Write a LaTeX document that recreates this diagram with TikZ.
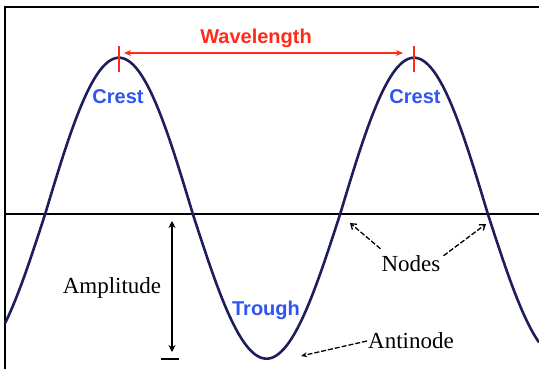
\documentclass[tikz,border=0pt]{standalone}
\usepackage{fontspec}
\setmainfont{Liberation Serif}
\newfontfamily\labelsans{Liberation Sans}
\usetikzlibrary{
  arrows.meta,
  positioning,
  calc
}
\definecolor{wvnavy}{HTML}{1E1E5C}
\definecolor{wvblue}{HTML}{2F55F0}
\definecolor{wvred}{HTML}{FF2A1A}

\begin{document}
\begin{tikzpicture}[
  x=1pt, y=-1pt,
  frameline/.style={draw=black, line width=1.6pt},
  wave/.style={draw=wvnavy, line width=2.6pt},
  partname/.style={
    font=\labelsans\bfseries\fontsize{20}{24}\selectfont,
    text=wvblue, inner sep=0pt
  },
  termname/.style={
    font=\fontsize{23}{27}\selectfont, text=black, inner sep=1pt
  },
  pointer/.style={
    draw=black, line width=1.3pt, dashed, dash pattern=on 5pt off 2pt
  }
]

% Canvas and frame
\useasboundingbox (0,0) rectangle (539,369);
\draw[frameline] (5,369) -- (5,7) -- (539,7);

% Rest line
\coordinate (restL) at (5,213.7);
\coordinate (restR) at (539,213.7);
\draw[line width=1.6pt] (restL) -- (restR);

% The wave
\draw[wave] plot[domain=5:539, samples=200, smooth]
  (\x, {213.7-cos(1.2203*(\x-119))*(cos(1.2203*(\x-119))>0 ? 156 : 145)});

% Crests and trough
\coordinate (crestA) at (119,58);
\coordinate (crestB) at (414,58);
\coordinate (troughbot) at (266,359);

\node[partname] (crestAlbl) at (118,97) {Crest};
\node[partname] (crestBlbl) at (415,97) {Crest};
\node[partname] (troughlbl) at (266,310) {Trough};

% Wavelength
\draw[wvred, line width=1.6pt] ($(crestA)+(0,-12)$) -- ($(crestA)+(0,14)$);
\draw[wvred, line width=1.6pt] ($(crestB)+(0,-12)$) -- ($(crestB)+(0,14)$);
\coordinate (waveA) at ($(crestA)+(0,-5)$);
\coordinate (waveB) at ($(crestB)+(0,-5)$);
\draw[{Stealth[length=7pt,width=6pt]}-{Stealth[length=7pt,width=6pt]},
  wvred, line width=1.8pt, shorten <=5pt, shorten >=11pt] (waveA) -- (waveB);
\node[partname, text=wvred] (wavelbl) at (256,38) {Wavelength};

% Amplitude
\coordinate (ampTop) at (172,221);
\coordinate (ampBot) at (172,352);
\draw[{Stealth[length=7pt,width=7pt]}-{Stealth[length=7pt,width=7pt]},
  line width=1.4pt] (ampTop) -- (ampBot);
\draw[line width=1.6pt] (161,359) -- (179,359);
\node[termname] (amplbl) at (112,288) {Amplitude};

% Nodes
\coordinate (nodeA) at (350,223);
\coordinate (nodeB) at (486,224);
\node[termname] (nodeslbl) at (411,264) {Nodes};
\draw[pointer, -{Straight Barb[length=5pt,width=7pt]}]
  (nodeslbl.north west) ++(0,-6) -- (nodeA);
\draw[pointer, -{Straight Barb[length=5pt,width=7pt]}]
  (nodeslbl.north east) ++(2,1) -- (nodeB);

% Antinode
\coordinate (antiA) at (301,356);
\node[termname] (antilbl) at (411,341) {Antinode};
\draw[pointer, -{Stealth[open,length=6pt,width=5pt]}]
  (antilbl.west) -- (antiA);

\end{tikzpicture}
\end{document}
